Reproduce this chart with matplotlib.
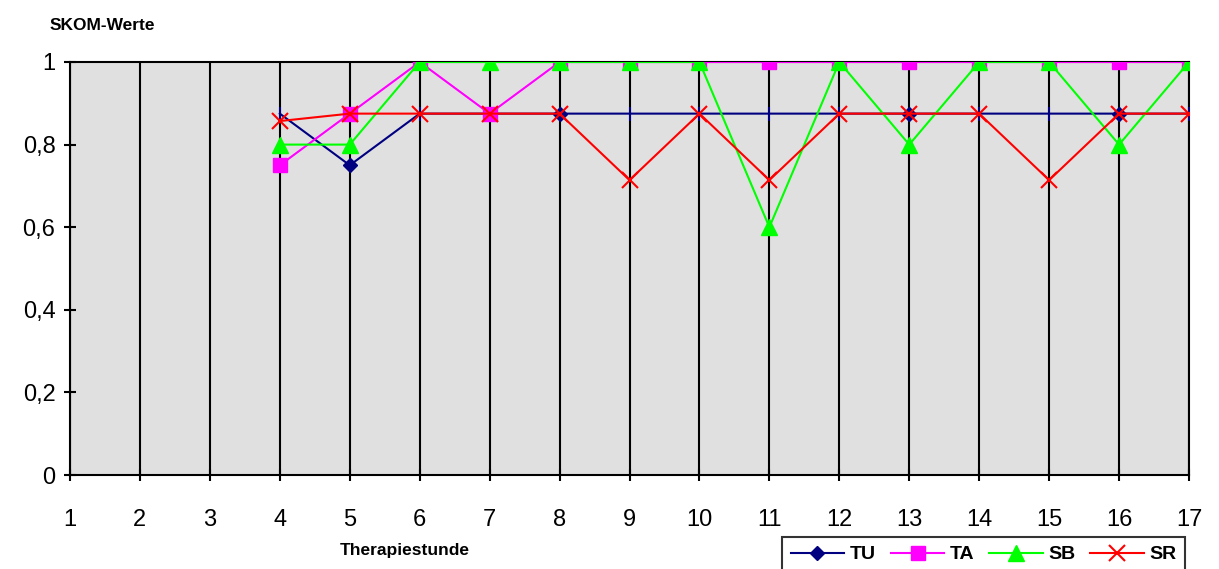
import numpy as np
import matplotlib.pyplot as plt
from matplotlib.ticker import FuncFormatter

plt.rcParams['font.family'] = ['Liberation Sans', 'DejaVu Sans']

# Daten (Therapiestunden 1-17, erst ab Stunde 4 Werte)
stunden = list(range(1, 18))
tu = [None, None, None, 0.875, 0.75, 0.875, 0.875, 0.875, 0.875, 0.875, 0.875, 0.875, 0.875, 0.875, 0.875, 0.875, 0.875]
ta = [None, None, None, 0.75, 0.875, 1, 0.875, 1, 1, 1, 1, 1, 1, 1, 1, 1, 1]
sb = [None, None, None, 0.8, 0.8, 1, 1, 1, 1, 1, 0.6, 1, 0.8, 1, 1, 0.8, 1]
sr = [None, None, None, 0.857, 0.875, 0.875, 0.875, 0.875, 0.714, 0.875, 0.714, 0.875, 0.875, 0.875, 0.714, 0.875, 0.875]
tu_diamonds = [5, 8, 13, 16]  # Stunden mit sichtbarer Raute

def arr(v):
    return np.array([np.nan if x is None else x for x in v], dtype=float)

fig = plt.figure(figsize=(12.19, 5.69), dpi=100)
ax = fig.add_axes([70 / 1219, 1 - 475 / 569, (1189 - 70) / 1219, (475 - 62) / 569])
ax.set_facecolor('#E0E0E0')

x = np.array(stunden)
tu_a = arr(tu)
idx_d = [stunden.index(s) for s in tu_diamonds]
idx_t = [i for i in range(len(stunden)) if i not in idx_d and not np.isnan(tu_a[i])]

ax.plot(x, tu_a, color='#000080', lw=1.5, marker='|', ms=10, mew=1.5, markevery=idx_t, zorder=3)
ax.plot(x[idx_d], tu_a[idx_d], ls='none', marker='D', color='#000080', ms=7.5, zorder=3)
ax.plot(x, arr(ta), color='#FF00FF', lw=1.5, marker='s', ms=10, zorder=4)
ax.plot(x, arr(sb), color='#00FF00', lw=1.5, marker='^', ms=11, zorder=5)
ax.plot(x, arr(sr), color='#FF0000', lw=1.5, marker='x', ms=11, mew=1.5, zorder=6)

# Legende-Handles
h_tu = plt.Line2D([], [], color='#000080', lw=1.5, marker='D', ms=7.5)
h_ta = plt.Line2D([], [], color='#FF00FF', lw=1.5, marker='s', ms=10)
h_sb = plt.Line2D([], [], color='#00FF00', lw=1.5, marker='^', ms=11)
h_sr = plt.Line2D([], [], color='#FF0000', lw=1.5, marker='x', ms=11, mew=1.5)

ax.set_xlim(1, 17)
ax.set_ylim(0, 1)
ax.set_xticks(stunden)
ax.set_yticks([0, 0.2, 0.4, 0.6, 0.8, 1])
ax.yaxis.set_major_formatter(FuncFormatter(lambda v, p: ('%g' % v).replace('.', ',')))
ax.grid(axis='x', color='black', lw=1.5)
ax.set_axisbelow(True)
for s in ax.spines.values():
    s.set_color('black')
    s.set_linewidth(1.5)
ax.tick_params(direction='inout', length=9, width=1.5, labelsize=17, pad=6)
ax.tick_params(axis='x', pad=20)

fig.text(50 / 1219, 1 - 25 / 569, 'SKOM-Werte', fontsize=12.5, fontweight='bold', va='center', ha='left')
fig.text(405 / 1219, 1 - 551 / 569, 'Therapiestunde', fontsize=12.5, fontweight='bold', va='center', ha='center')

leg = fig.legend([h_tu, h_ta, h_sb, h_sr], ['TU', 'TA', 'SB', 'SR'], loc='upper left',
                 bbox_to_anchor=(782 / 1219, 1 - 537 / 569), ncol=4, frameon=True, fancybox=False,
                 prop={'weight': 'bold', 'size': 14}, handlelength=2.75, columnspacing=0.75,
                 handletextpad=0.3, borderpad=0.45, borderaxespad=0)
leg.get_frame().set_edgecolor('black')
leg.get_frame().set_linewidth(1.5)

fig.savefig('out.png', dpi=100)
